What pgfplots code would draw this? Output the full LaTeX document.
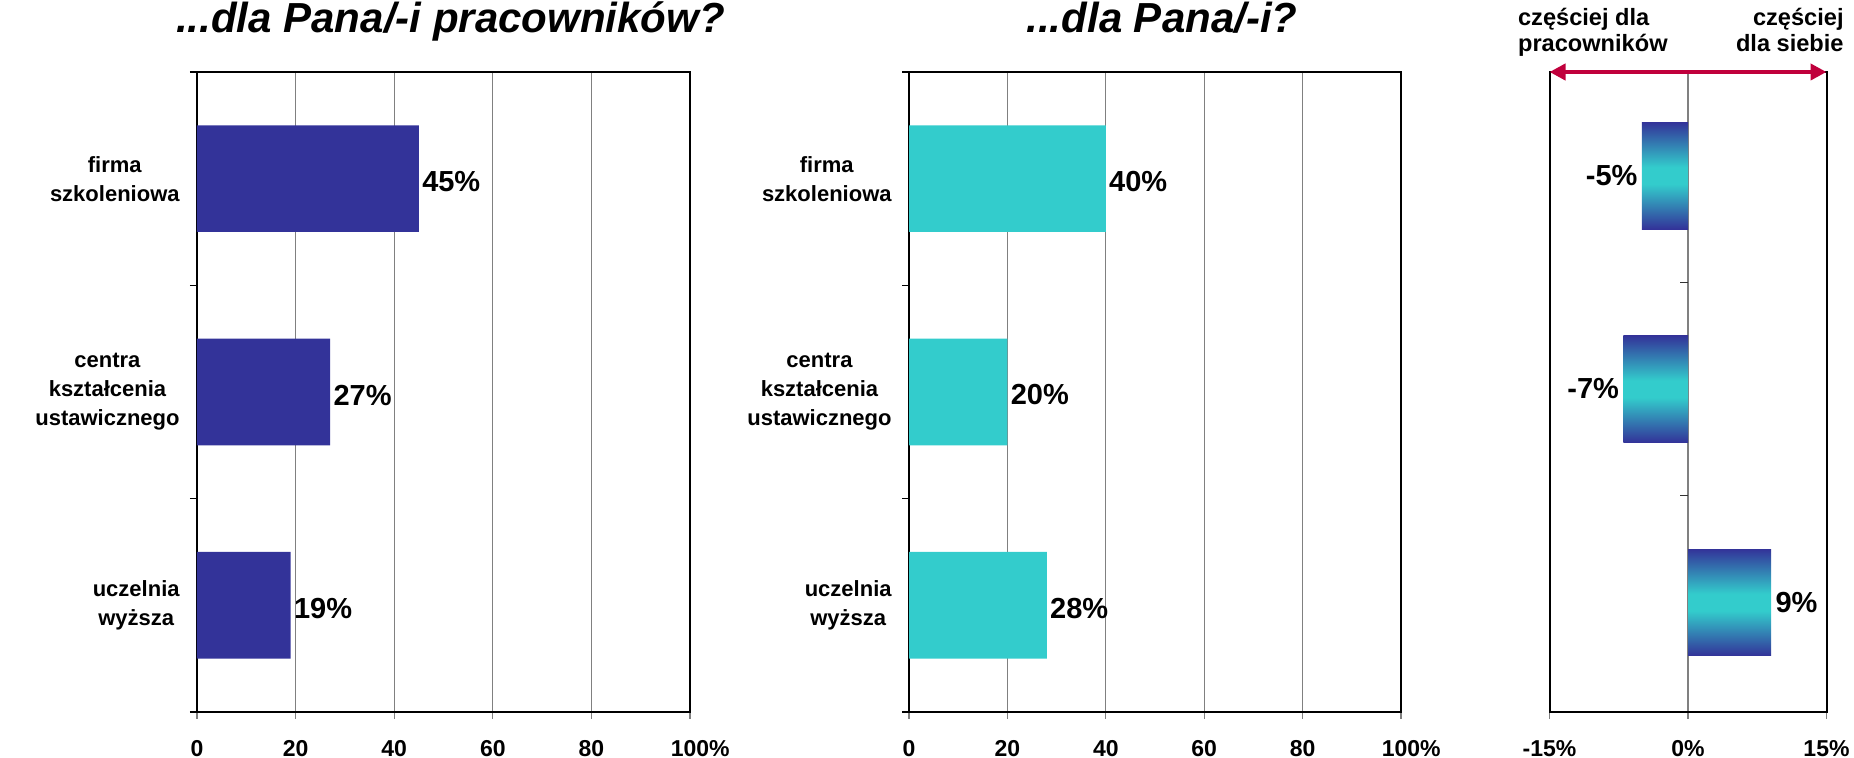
\documentclass[border=0pt]{standalone}
\usepackage{pgfplots}
\pgfplotsset{compat=1.18}
\usepackage{fontspec}
\setmainfont{Liberation Sans}
\usetikzlibrary{arrows.meta}
\definecolor{dblue}{HTML}{333399}
\definecolor{turq}{HTML}{33CCCC}
\definecolor{arrowred}{HTML}{C0003C}
\pgfdeclareverticalshading{barshade}{100bp}{color(0bp)=(dblue); color(25bp)=(dblue); color(46bp)=(turq); color(54bp)=(turq); color(75bp)=(dblue); color(100bp)=(dblue)}

\pgfplotsset{
  panel/.style={
    scale only axis, height=320pt, width=246.5pt,
    anchor=south west,
    xbar, bar width=0.5,
    y dir=reverse, ymin=-0.5, ymax=2.5,
    ytick={0,1,2},
    yticklabels={firma\\szkoleniowa, centra\\kształcenia\\ustawicznego, uczelnia\\wyższa},
    yticklabel style={align=center, font=\fontsize{11}{14.5}\selectfont\bfseries, inner sep=0pt, xshift=-5pt},
    major y tick style={draw=none},
    minor ytick={-0.5,0.5,1.5,2.5},
    minor tick length=3.5pt, major tick length=3.5pt,
    tick align=outside,
    xtick pos=left, ytick pos=left,
    xmin=0, xmax=100, xtick={0,20,40,60,80,100},
    xticklabels={0,20,40,60,80,100\rlap{\%}},
    xticklabel style={font=\fontsize{11.5}{13}\selectfont\bfseries, yshift=-7pt},
    xmajorgrids, grid style={gray, line width=0.6pt},
    axis line style={black, line width=1pt},
    tick style={gray, line width=0.6pt},
    minor y tick style={black, line width=0.8pt},
    title style={at={(0.5,1)}, anchor=base, yshift=13.5pt, xshift=3.5pt, font=\fontsize{21}{25}\selectfont\bfseries\itshape},
    nodes near coords, point meta=explicit symbolic,
    nodes near coords style={font=\fontsize{14.5}{16}\selectfont\bfseries, inner sep=1.5pt, anchor=west, text=black, yshift=-1.5pt},
  }
}

\begin{document}
\begin{tikzpicture}
\path[use as bounding box] (0,0) rectangle (927pt,379pt);

% left panel
\begin{axis}[panel, at={(98.5pt,23pt)}, title={...dla Pana/-i pracowników?}]
\addplot[fill=dblue, draw=none] coordinates {(45,0) [45\%] (27,1) [27\%] (19,2) [19\%]};
\end{axis}

% middle panel
\begin{axis}[panel, at={(454.5pt,23pt)}, width=246pt, title={...dla Pana/-i?}]
\addplot[fill=turq, draw=none] coordinates {(40,0) [40\%] (20,1) [20\%] (28,2) [28\%]};
\end{axis}

% right panel
\begin{axis}[scale only axis, at={(774.75pt,23pt)}, anchor=south west,
  width=138.5pt, height=320pt,
  xbar, bar width=0.5,
  y dir=reverse, ymin=-0.486, ymax=2.514,
  xmin=-15, xmax=15, xtick={-15,0,15}, xticklabels={-15\%,0\%,15\%},
  xticklabel style={font=\fontsize{11.5}{13}\selectfont\bfseries, yshift=-7pt},
  ytick=\empty,
  tick align=outside, xtick pos=left, major tick length=3.5pt,
  xmajorgrids, grid style={gray, line width=0.6pt},
  axis line style={black, line width=1pt},
  tick style={gray, line width=0.6pt},
  nodes near coords, point meta=explicit symbolic,
  nodes near coords style={font=\fontsize{14.5}{16}\selectfont\bfseries, inner sep=2pt, text=black},
  clip=false]
\addplot[bar shift=0pt, draw=none, shading=barshade, nodes near coords style={anchor=east}] coordinates {(-5,0) [-5\%]};
\addplot[bar shift=0pt, draw=none, shading=barshade, nodes near coords style={anchor=east}] coordinates {(-7,1) [-7\%]};
\addplot[bar shift=0pt, draw=none, shading=barshade, nodes near coords style={anchor=west}] coordinates {(9,2) [9\%]};
\draw[black!80, line width=0.6pt] (axis cs:0,0.5) -- ([xshift=-4pt]axis cs:0,0.5);
\draw[black!80, line width=0.6pt] (axis cs:0,1.5) -- ([xshift=-4pt]axis cs:0,1.5);
\draw[arrowred, line width=2pt, {Triangle[length=8pt,width=8pt]}-{Triangle[length=8pt,width=8pt]}] (axis cs:-15,-0.486) -- (axis cs:15,-0.486);
\end{axis}

\begin{scope}[every node/.style={font=\fontsize{11.8}{13.5}\selectfont\bfseries, inner sep=0pt}]
\node[anchor=base west] at (758.85pt,366pt) {częściej dla};
\node[anchor=base west] at (758.85pt,353pt) {pracowników};
\node[anchor=base east] at (922pt,366pt) {częściej};
\node[anchor=base east] at (922pt,353pt) {dla siebie};
\end{scope}
\end{tikzpicture}
\end{document}
